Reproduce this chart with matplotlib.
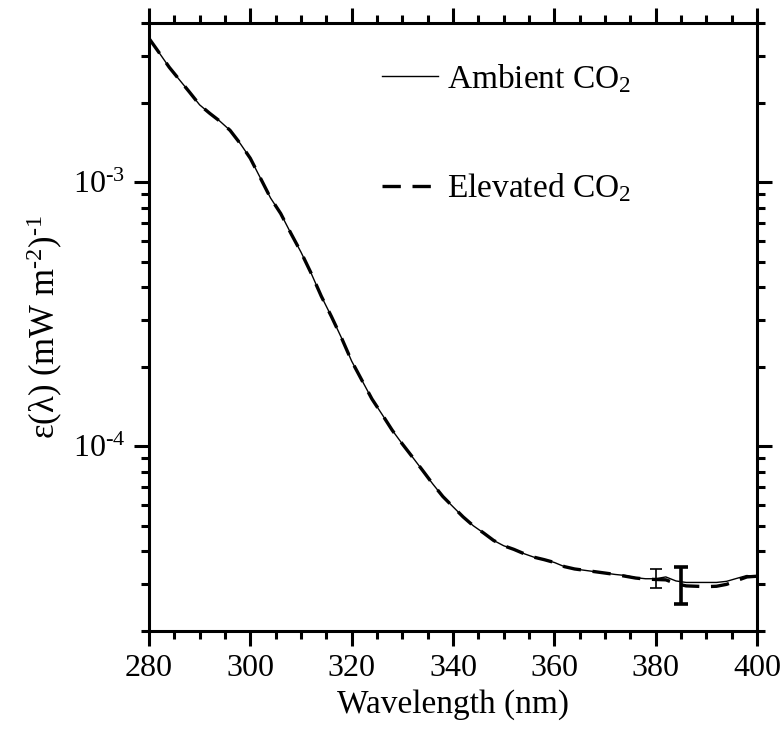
import numpy as np
import matplotlib
matplotlib.use("Agg")
import matplotlib.pyplot as plt
from matplotlib.ticker import MultipleLocator, LogLocator, NullFormatter, FuncFormatter

plt.rcParams['font.family'] = ['Liberation Serif', 'DejaVu Serif']
plt.rcParams['mathtext.fontset'] = 'custom'
plt.rcParams['mathtext.rm'] = 'Liberation Serif'
plt.rcParams['mathtext.it'] = 'Liberation Serif:italic'

HY = '\u2010'  # plain hyphen, mathtext would turn "-" into a long minus

# wavelength (nm)
wl = [280, 282, 284, 286, 288, 290, 292, 294, 296, 298, 300, 302, 304, 306, 308,
      310, 312, 314, 316, 318, 320, 322, 324, 326, 328, 330, 332, 334, 336, 338,
      340, 342, 344, 346, 348, 350, 352, 354, 356, 358, 360, 362, 364, 366, 368,
      370, 372, 374, 376, 378, 380, 382, 384, 386, 388, 390, 392, 394, 396, 398, 400]

ambient = [3.50e-3, 3.09e-3, 2.72e-3, 2.44e-3, 2.19e-3, 1.96e-3, 1.82e-3, 1.70e-3,
           1.57e-3, 1.40e-3, 1.23e-3, 1.035e-3, 8.7e-4, 7.6e-4, 6.4e-4, 5.43e-4,
           4.52e-4, 3.7e-4, 3.1e-4, 2.57e-4, 2.1e-4, 1.78e-4, 1.51e-4, 1.32e-4,
           1.15e-4, 1.02e-4, 9.1e-5, 8.1e-5, 7.2e-5, 6.45e-5, 5.9e-5, 5.4e-5,
           5.0e-5, 4.7e-5, 4.4e-5, 4.2e-5, 4.07e-5, 3.92e-5, 3.8e-5, 3.72e-5,
           3.63e-5, 3.5e-5, 3.43e-5, 3.39e-5, 3.35e-5, 3.31e-5, 3.27e-5, 3.24e-5,
           3.18e-5, 3.15e-5, 3.15e-5, 3.2e-5, 3.09e-5, 3.05e-5, 3.05e-5, 3.05e-5,
           3.05e-5, 3.08e-5, 3.16e-5, 3.24e-5, 3.2e-5]

elevated = [3.50e-3, 3.09e-3, 2.72e-3, 2.44e-3, 2.19e-3, 1.96e-3, 1.82e-3, 1.70e-3,
            1.57e-3, 1.40e-3, 1.23e-3, 1.035e-3, 8.7e-4, 7.6e-4, 6.4e-4, 5.43e-4,
            4.52e-4, 3.7e-4, 3.1e-4, 2.57e-4, 2.1e-4, 1.78e-4, 1.51e-4, 1.32e-4,
            1.15e-4, 1.02e-4, 9.1e-5, 8.1e-5, 7.2e-5, 6.45e-5, 5.9e-5, 5.4e-5,
            5.0e-5, 4.7e-5, 4.4e-5, 4.2e-5, 4.07e-5, 3.92e-5, 3.8e-5, 3.72e-5,
            3.63e-5, 3.5e-5, 3.43e-5, 3.39e-5, 3.35e-5, 3.31e-5, 3.27e-5, 3.22e-5,
            3.17e-5, 3.14e-5, 3.13e-5, 3.12e-5, 3.02e-5, 2.96e-5, 2.95e-5, 2.94e-5,
            2.95e-5, 3.0e-5, 3.1e-5, 3.2e-5, 3.22e-5]

# error bars (one per series)
err_amb_x, err_amb_y, err_amb_lo, err_amb_hi = 380, 3.15e-5, 2.91e-5, 3.43e-5
err_ele_x, err_ele_y, err_ele_lo, err_ele_hi = 385, 3.0e-5, 2.53e-5, 3.50e-5

fig = plt.figure(figsize=(7.84, 7.31), dpi=100)
ax = fig.add_axes([0.190, 0.137, 0.7756, 0.8315])

ax.plot(wl, ambient, color='black', lw=1.0, label='Ambient CO$_2$')
ax.plot(wl, elevated, color='black', lw=2.4, dashes=(5.5, 3.5),
        label='Elevated CO$_2$')

ax.errorbar([err_amb_x], [err_amb_y],
            yerr=[[err_amb_y - err_amb_lo], [err_amb_hi - err_amb_y]],
            fmt='none', ecolor='black', elinewidth=1.2, capsize=4, capthick=1.2)
ax.errorbar([err_ele_x], [err_ele_y],
            yerr=[[err_ele_y - err_ele_lo], [err_ele_hi - err_ele_y]],
            fmt='none', ecolor='black', elinewidth=2.6, capsize=5, capthick=2.6)

ax.set_yscale('log')
ax.set_xlim(280, 400)
ax.set_ylim(2e-5, 4e-3)

ax.xaxis.set_major_locator(MultipleLocator(20))
ax.xaxis.set_minor_locator(MultipleLocator(5))
ax.yaxis.set_major_locator(LogLocator(base=10, numticks=10))
ax.yaxis.set_minor_locator(LogLocator(base=10, subs=np.arange(2, 10), numticks=10))
ax.yaxis.set_minor_formatter(NullFormatter())
ax.yaxis.set_major_formatter(FuncFormatter(
    lambda v, p: '10$^{' + HY + '%d}$' % abs(round(np.log10(v)))))

ax.tick_params(which='both', direction='out', top=True, right=True, width=2.2)
ax.tick_params(which='major', length=11, labelsize=23, pad=6)
ax.tick_params(which='minor', length=6)
for s in ax.spines.values():
    s.set_linewidth(2.2)

ax.set_xlabel('Wavelength (nm)', fontsize=24, labelpad=4)
ax.set_ylabel('ε(λ) (mW m$^{' + HY + '2}$)$^{' + HY + '1}$', fontsize=25, labelpad=6)

ax.legend(loc='upper left', bbox_to_anchor=(0.334, 0.985), frameon=False,
          fontsize=24, handlelength=1.68, handletextpad=0.27, labelspacing=2.3)

fig.savefig('out.png', dpi=100)
